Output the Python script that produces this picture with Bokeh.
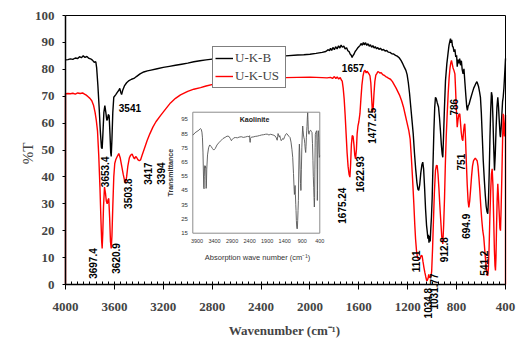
import math
from bokeh.plotting import figure
from bokeh.models import (Range1d, SingleIntervalTicker, FixedTicker, Legend, LegendItem,
                          LabelSet, Label, LinearAxis, ColumnDataSource)
from bokeh.core.properties import value
from bokeh.embed import file_html
from bokeh.resources import INLINE

# ---------------- data ----------------
ukb = [
(4000,83.5),(3980,83.6),(3960,83.9),(3940,83.7),(3920,84.2),(3900,84.0),(3885,84.7),(3870,84.3),(3855,85.0),(3840,84.4),
(3825,84.8),(3810,84.1),(3795,83.9),(3780,83.4),(3765,82.6),(3752,82.8),(3745,80.5),(3735,74),(3725,66),(3715,57),
(3706,51),(3700,50.5),(3694,56),(3686,64),(3678,66.5),(3670,64),(3662,61),(3656,61.5),(3650,63.2),(3643,62.8),
(3636,56),(3630,49),(3626,47.6),(3620,54),(3613,64),(3605,69.6),(3590,70.5),(3575,71.5),(3562,72.3),(3556,72.9),
(3548,71.5),(3541,70.6),(3532,72.2),(3518,73.8),(3500,75.0),(3480,75.8),(3460,76.3),(3440,76.6),(3420,77.3),(3390,78.3),
(3360,79.0),(3330,79.4),(3300,79.7),(3250,80.2),(3200,80.7),(3150,81.1),(3100,81.5),(3050,81.9),(3000,82.3),(2950,82.8),
(2900,83.2),(2850,83.5),(2800,83.8),(2700,84.1),(2600,84.3),(2500,84.5),(2400,84.6),(2300,84.8),(2200,85.0),(2100,85.3),
(2050,85.4),(2000,85.6),(1950,85.9),(1900,86.3),(1870,86.6),(1850,87.3),(1840,86.9),(1832,87.8),(1822,87.0),(1812,88.1),
(1800,87.3),(1790,88.4),(1778,87.6),(1766,88.7),(1755,87.9),(1745,89.0),(1735,88.2),(1723,88.6),(1712,87.6),(1700,88.0),
(1690,86.9),(1680,86.6),(1670,85.6),(1662,85.2),(1655,84.4),(1648,85.1),(1640,85.6),(1630,86.6),(1620,87.2),(1610,87.9),
(1600,88.4),(1590,88.9),(1580,89.6),(1572,88.9),(1563,90.0),(1555,89.1),(1545,89.9),(1535,88.9),(1525,89.5),(1515,88.6),
(1505,89.1),(1495,88.2),(1485,88.8),(1475,87.9),(1465,88.4),(1455,87.6),(1445,88.1),(1435,87.4),(1423,87.8),(1410,87.1),
(1398,87.4),(1385,86.8),(1372,87.0),(1360,86.4),(1345,86.3),(1330,85.8),(1315,85.7),(1300,85.2),(1286,84.9),(1270,84.3),
(1255,83.3),(1240,82.0),(1228,80.8),(1215,79.6),(1205,78.0),(1195,75),(1185,71),(1175,66),(1165,61),(1155,56),
(1145,49),(1135,43),(1125,38),(1117,35.5),(1110,35),(1102,37),(1093,41.5),(1084,44.5),(1077,45.5),(1070,43),
(1062,36),(1054,28),(1046,22),(1040,19.5),(1035,17),(1030,18.5),(1026,15.5),(1021,18),(1016,16),(1011,21),
(1006,25),(1000,32),(993,45),(986,57),(979,66),(973,69.6),(966,69),(958,67.5),(948,66),(940,62),
(932,57),(925,52),(918,48.5),(913,47.3),(907,55),(900,65),(891,75.8),(880,82),(870,86),(862,89),
(855,90.5),(850,91.4),(846,89.8),(840,91.0),(834,88.6),(828,88.2),(821,86.5),(814,87.4),(807,84.6),(800,85.2),
(795,81.0),(789,83.6),(782,82.2),(775,84.0),(768,81.5),(761,83.2),(754,79.8),(747,78.3),(740,80.2),(732,75),
(724,70),(717,66),(712,64.7),(705,66.5),(698,67.0),(690,68.4),(680,70.0),(670,71.5),(660,73.0),(650,74.0),
(642,74.8),(634,75.4),(628,74.6),(620,73.5),(612,71.5),(605,69.6),(598,64),(590,55),(582,46),(573,38.7),
(565,33),(558,29),(551,27),(545,26.3),(539,32),(533,42),(527,55),(521,65),(515,71.5),(509,70),
(503,62),(497,52),(490,42.4),(484,48),(477,58),(470,66),(463,69.6),(457,66),(450,60),(444,55.5),
(441,54.8),(436,58),(430,63),(424,68),(419,69.6),(413,73),(407,78),(400,84)]

ukus = [
(4000,0),(4000,70.9),(3980,71.0),(3960,70.9),(3940,71.1),(3920,70.8),(3900,71.2),(3880,71.0),(3860,71.2),(3845,70.8),
(3830,70.4),(3815,69.8),(3800,69.2),(3785,68.3),(3770,66.5),(3758,64),(3748,61),(3738,57),(3728,48),(3718,36),
(3710,24),(3704,16),(3700,13.4),(3695,19),(3689,29),(3681,36.2),(3673,34),(3666,31),(3659,30),(3652,31.5),
(3646,32),(3639,25),(3632,16),(3626,13.4),(3620,18),(3613,29),(3605,40),(3597,45),(3588,46.5),(3578,47.5),
(3564,48.7),(3552,47),(3540,44),(3528,41),(3516,38.5),(3509,37.7),(3500,40),(3490,44),(3478,47),(3468,48),
(3455,48.5),(3443,47.2),(3435,46.7),(3426,47.6),(3419,47.3),(3408,46.4),(3396,46.0),(3386,46.3),(3372,48.2),(3355,50.5),
(3332,53.5),(3310,56),(3285,58.5),(3260,60.5),(3223,62.8),(3180,65.3),(3141,67.5),(3100,69.2),(3059,70.5),(3000,71.8),
(2950,72.6),(2895,73.2),(2850,73.8),(2786,74.5),(2700,75.2),(2600,75.8),(2500,76.2),(2400,76.5),(2300,76.7),(2200,76.9),
(2100,77.0),(2000,77.1),(1950,77.0),(1900,76.9),(1860,76.8),(1832,77.0),(1815,76.6),(1800,77.3),(1788,76.6),(1777,77.2),
(1765,76.4),(1752,76.9),(1743,76.0),(1736,75.6),(1728,73),(1720,69),(1712,63),(1704,56),(1696,49),(1688,44),
(1680,41),(1673,39.9),(1667,45),(1661,52),(1654,55.4),(1647,55),(1640,52),(1633,48),(1627,46.7),(1620,50),
(1614,56),(1607,59),(1600,60.5),(1591,63.5),(1583,69),(1575,74),(1566,77.5),(1557,79.3),(1549,79.6),(1540,78.6),
(1533,79.3),(1525,78.8),(1517,78.3),(1509,77.6),(1502,75),(1496,70),(1490,65),(1487,64),(1482,66),(1476,71),
(1469,75.5),(1461,77.8),(1452,78.5),(1444,79.2),(1435,78.9),(1426,78.6),(1417,78.8),(1405,78.0),(1393,77.8),(1380,77.3),
(1367,77.0),(1355,76.6),(1341,76.3),(1325,75.4),(1310,74.2),(1295,73.0),(1280,71.6),(1265,70.2),(1250,68.3),(1235,66.0),
(1220,63),(1205,60),(1191,57.2),(1180,54),(1170,47),(1160,39),(1150,30),(1142,22),(1136,17),(1128,12.5),
(1120,10),(1110,9.3),(1100,9.6),(1090,10.8),(1082,10.6),(1075,8.5),(1068,6.5),(1060,4.5),(1052,2.8),(1045,1.5),
(1040,1.5),(1034,2.2),(1028,3.8),(1022,2.5),(1016,3.2),(1010,2.7),(1004,5),(997,13),(990,23),(982,34),
(973,42.4),(965,44.3),(959,44.2),(952,41),(945,36),(938,30),(930,24),(922,18),(913,15.1),(906,22),
(899,32),(892,45),(885,55),(877,63.5),(869,71),(861,77),(854,80.5),(848,82.3),(842,83.3),(836,82),
(829,80.5),(822,79.6),(814,78.3),(808,72),(802,65),(795,58.5),(789,61),(782,63.2),(774,63.5),(768,60),
(762,56.5),(755,54),(749,53.5),(743,57),(737,59.3),(733,59.7),(727,54),(720,45),(713,37),(706,31),
(700,28.7),(693,31),(686,35),(678,40),(670,44),(662,46),(655,46.5),(647,47),(640,46.5),(632,46),
(625,44),(618,40),(610,35),(602,29),(594,24),(586,20),(578,17.6),(570,13),(562,8.5),(555,5.5),
(549,3.6),(545,3.3),(540,6),(534,14),(528,25),(521,35),(515,41),(509,43),(503,37),(497,25),
(491,13),(486,7),(482,5.2),(478,10),(473,22),(468,32),(463,37.4),(458,33),(452,27),(446,21),
(441,20),(436,28),(430,40),(424,53),(419,63.5),(414,58),(409,55),(404,60),(401,63),(400,63),(400,0)]

kaolinite = [
(4020,84),(3990,84.5),(3960,85.5),(3930,86),(3900,86.5),(3870,87),(3840,87.5),(3805,88.5),(3780,88),(3760,86),
(3745,82),(3730,72),(3718,58),(3708,47),(3700,46.2),(3692,55),(3684,62),(3676,62.5),(3668,61),(3660,62),
(3652,61.5),(3645,52),(3640,46.5),(3633,48),(3622,60),(3600,70),(3570,75),(3538,77),(3500,76),(3460,74.5),
(3424,73.4),(3380,74.5),(3330,77),(3280,78.5),(3220,80),(3160,81.5),(3100,82.3),(3044,83.2),(2990,83),(2950,81.5),
(2920,80),(2890,81),(2850,82),(2800,82.2),(2750,82),(2700,82.5),(2640,82.8),(2580,82.3),(2520,82.6),(2460,83),
(2420,82.8),(2400,83.5),(2395,80),(2385,78.8),(2375,81.5),(2350,82.5),(2300,82.6),(2240,83),(2180,83.2),(2120,83.6),
(2060,84),(2000,84.2),(1950,84.5),(1900,84.6),(1850,84),(1800,84.5),(1760,84.2),(1710,83.8),(1670,83.2),(1640,82),
(1615,80.3),(1600,83),(1590,85),(1575,84),(1555,82.5),(1540,83.5),(1520,81.5),(1500,80),(1480,80.5),(1460,81.5),
(1430,81),(1400,83),(1370,84.5),(1343,85),(1310,84),(1280,83),(1248,82.2),(1220,79),(1195,74),(1172,68.3),
(1150,57),(1135,48),(1124,42.2),(1115,44),(1105,48.5),(1095,42),(1085,35),(1077,31),(1068,24),(1058,19.4),
(1048,18),(1039,18.3),(1030,24),(1020,31),(1010,38),(1000,58),(990,72),(982,77.6),(972,72),(962,60),
(950,50),(940,45),(935,45.5),(925,60),(912,75),(900,84),(887,90.3),(876,87),(865,84),(852,82),
(840,81),(828,78),(815,74),(802,71.7),(792,76),(783,82),(773,86.9),(765,90),(755,96),(745,99.6),
(738,95),(728,88),(718,85),(707,84.5),(695,86),(680,87),(660,87.3),(640,86.5),(622,85.7),(608,78),
(595,66),(585,55),(574,47.3),(565,40),(555,33.4),(547,40),(540,60),(533,75),(527,84.5),(510,86),
(489,87),(482,80),(476,60),(470,38),(465,45),(458,70),(450,85),(441,87),(430,82),(420,72),
(413,68.3),(405,69),(400,69.4)]

ukb_wn = [a for a, b in ukb]
ukb_t = [b for a, b in ukb]
ukus_wn = [a for a, b in ukus]
ukus_t = [b for a, b in ukus]
kao_wn = [a for a, b in kaolinite]
kao_t = [b for a, b in kaolinite]

# peak annotations (text, anchor wavenumber, anchor %T)
vlab_text = ["3697.4", "3653.4", "3620.9", "3503.8", "3417", "3394", "1675.24", "1622.93",
             "1477.25", "1101", "1034.8", "1031.77", "912.8", "786", "751", "694.9", "541.2"]
vlab_wn = [3779, 3673, 3585, 3487, 3327, 3215, 1736, 1592, 1492, 1136, 1038, 983, 905, 823, 768, 727, 578]
vlab_t = [2.1, 36.2, 4.0, 28.1, 37.1, 37.1, 22.6, 34.3, 52.3, 4.6, -12.6, -9.3, 8.3, 62.8, 42.4, 17.0, 3.3]
hlab_text = ["3541", "1657"]
hlab_wn = [3564, 1739]
hlab_t = [65.5, 80.4]

x_ticks_inset = [3900, 3400, 2900, 2400, 1900, 1400, 900, 400]
y_ticks_inset = [15, 25, 35, 45, 55, 65, 75, 85, 95]

# ---------------- layout: frame covers the whole canvas, axes are pinned ----------------
W, H = 523, 350
BOX_L, BOX_R, BOX_T, BOX_B = 65, 505, 15, 284      # pixel box of the 4000..400 x 0..100 area
X0, X1, Y0, Y1 = 4000, 400, 0, 100
xs = (X0 - X1) / (BOX_R - BOX_L)
ys = (Y1 - Y0) / (BOX_B - BOX_T)
x_range = Range1d(X0 + BOX_L * xs, X1 - (W - BOX_R) * xs)
y_range = Range1d(Y0 - (H - BOX_B) * ys, Y1 + BOX_T * ys)

p = figure(width=W, height=H, output_backend="svg", toolbar_location=None,
           x_range=x_range, y_range=y_range,
           min_border_left=0, min_border_right=0, min_border_top=0, min_border_bottom=0)
p.grid.visible = False
p.outline_line_color = None
p.background_fill_color = "white"
p.border_fill_color = "white"

serif = "Liberation Serif"
xa = p.xaxis[0]
xa.fixed_location = Y0
xa.bounds = (X1, X0)
xa.ticker = SingleIntervalTicker(interval=400, num_minor_ticks=8)
xa.major_tick_in = 0
xa.major_tick_out = 5
xa.minor_tick_in = 3
xa.minor_tick_out = 0
xa.axis_line_width = 1.5
xa.major_label_text_font = serif
xa.major_label_text_font_style = "bold"
xa.major_label_text_font_size = "13px"
xa.major_label_standoff = 13

ya = p.yaxis[0]
ya.fixed_location = X0
ya.bounds = (Y0, Y1)
ya.ticker = SingleIntervalTicker(interval=10, num_minor_ticks=0)
ya.major_tick_in = 0
ya.major_tick_out = 3
ya.minor_tick_line_color = None
ya.axis_line_width = 1.5
ya.major_label_text_font = serif
ya.major_label_text_font_style = "bold"
ya.major_label_text_font_size = "13px"
ya.major_label_standoff = 8

# top and right edges of the plot box
p.add_layout(LinearAxis(fixed_location=Y1, bounds=(X1, X0), ticker=FixedTicker(ticks=[]),
                        axis_line_color="black", axis_line_width=1), "above")
p.add_layout(LinearAxis(fixed_location=X1, bounds=(Y0, Y1), ticker=FixedTicker(ticks=[]),
                        axis_line_color="black", axis_line_width=1), "right")

# axis titles
p.add_layout(Label(x=284, y=H - 330, x_units="screen", y_units="screen",
                   text="Wavenumber (cm\u207B\u00B9)", text_align="center", text_baseline="middle",
                   text_font=serif, text_font_style="bold", text_font_size="13px"))
p.add_layout(Label(x=27.5, y=H - 153, x_units="screen", y_units="screen", text="%T",
                   angle=90, angle_units="deg", text_align="center", text_baseline="middle",
                   text_font=serif, text_font_size="15px"))

rb = p.line(ukb_wn, ukb_t, line_color="black", line_width=1.4)
rr = p.line(ukus_wn, ukus_t, line_color="#ff0000", line_width=1.4)

legend = Legend(items=[LegendItem(label="U-K-B", renderers=[rb]),
                       LegendItem(label="U-K-US", renderers=[rr])],
                location=(212, H - 88), padding=2, spacing=0, margin=0,
                glyph_width=18, glyph_height=18, label_height=18, label_width=48,
                label_standoff=2, border_line_color="black", border_line_width=1,
                background_fill_color="white", background_fill_alpha=1.0,
                label_text_font=serif, label_text_font_size="13px")
p.add_layout(legend)

lab_font = value("Liberation Sans")
vsrc = ColumnDataSource(dict(x=vlab_wn, y=vlab_t, text=vlab_text))
p.add_layout(LabelSet(x="x", y="y", text="text", source=vsrc, angle=90, angle_units="deg",
                      text_align="left", text_baseline="middle", text_font=lab_font,
                      text_font_style="bold", text_font_size="10px", text_color="black"))
hsrc = ColumnDataSource(dict(x=hlab_wn, y=hlab_t, text=hlab_text))
p.add_layout(LabelSet(x="x", y="y", text="text", source=hsrc,
                      text_align="left", text_baseline="middle", text_font=lab_font,
                      text_font_style="bold", text_font_size="10px", text_color="black"))

# ---------------- inset (Kaolinite) via a sub-coordinate system ----------------
ix0, ix1, iy0, iy1 = 4020, 400, 15, 100
sub = p.subplot(x_source=Range1d(ix0, ix1), y_source=Range1d(iy0, iy1),
                x_target=Range1d(2958.4, 1919.4), y_target=Range1d(19.07, 64.05))
sub.quad(left=[ix0], right=[ix1], bottom=[iy0], top=[iy1], fill_color="white",
         line_color="#8c8c8c", line_width=1)
sub.line(kao_wn, kao_t, line_color="#555555", line_width=0.9)
sub.text(x=x_ticks_inset, y=[iy0] * len(x_ticks_inset), text=[str(v) for v in x_ticks_inset],
         y_offset=8, text_align="center", text_baseline="middle", text_font=lab_font,
         text_font_size="5.5px", text_color="#333333")
sub.text(x=[ix0] * len(y_ticks_inset), y=y_ticks_inset, text=[str(v) for v in y_ticks_inset],
         x_offset=-5, text_align="right", text_baseline="middle", text_font=lab_font,
         text_font_size="6px", text_color="#333333")
# "Transmittance" placed ~22 px left of the inset frame
sub.text(x=[ix0 + 22 * (ix0 - ix1) / 127.0], y=[(iy0 + iy1) / 2], text=["Transmittance"],
         angle=math.pi / 2, text_align="center", text_baseline="middle", text_font=lab_font,
         text_font_style="bold", text_font_size="7px", text_color="#333333")
sub.text(x=[2260], y=[iy1], text=["Kaolinite"], y_offset=7.5, text_align="center",
         text_baseline="middle", text_font=lab_font, text_font_style="bold",
         text_font_size="7px", text_color="#222222")
sub.text(x=[2174], y=[iy0], text=["Absorption wave number (cm\u207B\u00B9)"], y_offset=24,
         text_align="center", text_baseline="middle", text_font=lab_font,
         text_font_size="7.5px", text_color="#333333")

open("out.html", "w").write(file_html(p, INLINE))
